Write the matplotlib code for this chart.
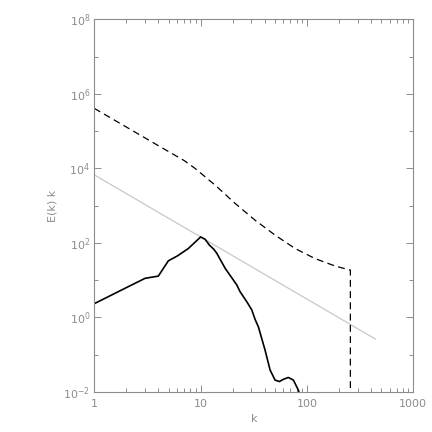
import numpy as np
import matplotlib
matplotlib.use("Agg")
import matplotlib.pyplot as plt
from matplotlib.ticker import FixedLocator, LogFormatterSciNotation, NullFormatter, FuncFormatter

# black spectrum E(k) k  (log10 values)
k_solid = [1, 2, 3, 4, 4.97, 6.04, 7.66, 10, 11, 12.1, 13.3, 14.2, 17.0, 21.9,
           23.5, 27.2, 30.3, 32.5, 34.9, 40.3, 45.0, 50.1, 55.0, 60.0, 66.8,
           74.5, 83.0, 92]
log_e_solid = [0.37, 0.80, 1.05, 1.11, 1.52, 1.65, 1.85, 2.16, 2.10, 1.94, 1.83,
               1.72, 1.32, 0.87, 0.69, 0.42, 0.20, -0.05, -0.25, -0.87, -1.41,
               -1.68, -1.72, -1.66, -1.61, -1.68, -1.95, -2.4]

# dashed spectrum
k_dash = [1, 2, 4, 7, 8.86, 13.7, 21.1, 32.5, 50.1, 77.3, 119, 184, 256, 256]
log_e_dash = [5.61, 5.11, 4.61, 4.21, 4.00, 3.55, 3.06, 2.61, 2.21, 1.85, 1.58,
              1.38, 1.27, -2.5]

# reference slope k^(-5/3)
ref_amp = 6.7e3
ref_slope = -5.0 / 3.0
ref_kmax = 440

gray = "#8c8c8c"
plt.rcParams["font.family"] = "DejaVu Sans"
plt.rcParams["mathtext.fontset"] = "dejavusans"

fig = plt.figure(figsize=(4.32, 4.32), dpi=100)
ax = fig.add_axes([0.2183, 0.0926, 0.7384, 0.8627])

k_ref = np.array([1, ref_kmax])
ax.plot(k_ref, ref_amp * k_ref ** ref_slope, color="#c8c8c8", lw=0.9)
ax.plot(k_dash, 10 ** np.array(log_e_dash), color="black", lw=0.9,
        dashes=(5.5, 3.5))
ax.plot(k_solid, 10 ** np.array(log_e_solid), color="black", lw=1.2)

ax.set_xscale("log")
ax.set_yscale("log")
ax.set_xlim(1, 1000)
ax.set_ylim(1e-2, 1e8)

ax.yaxis.set_major_locator(FixedLocator([10.0 ** p for p in range(-2, 9, 2)]))
ax.yaxis.set_minor_locator(FixedLocator([10.0 ** p for p in range(-1, 8, 2)]))
ax.yaxis.set_major_formatter(LogFormatterSciNotation())
ax.yaxis.set_minor_formatter(NullFormatter())
ax.xaxis.set_major_locator(FixedLocator([1, 10, 100, 1000]))
ax.xaxis.set_minor_locator(FixedLocator([m * 10.0 ** d for d in range(3) for m in range(2, 10)]))
ax.xaxis.set_major_formatter(FuncFormatter(lambda v, p: f"{int(round(v))}"))
ax.xaxis.set_minor_formatter(NullFormatter())

for s in ax.spines.values():
    s.set_color(gray)
    s.set_linewidth(0.8)
ax.tick_params(which="both", direction="in", top=True, right=True,
               color=gray, width=0.7, labelcolor=gray, labelsize=8)
ax.tick_params(which="major", length=5)
ax.tick_params(which="minor", length=2.8)
ax.tick_params(axis="x", pad=5)
ax.tick_params(axis="y", pad=3)

ax.set_xlabel("k", color=gray, fontsize=8, labelpad=4)
ax.set_ylabel("E(k) k", color=gray, fontsize=8, labelpad=4)

fig.savefig("out.png", dpi=100)
